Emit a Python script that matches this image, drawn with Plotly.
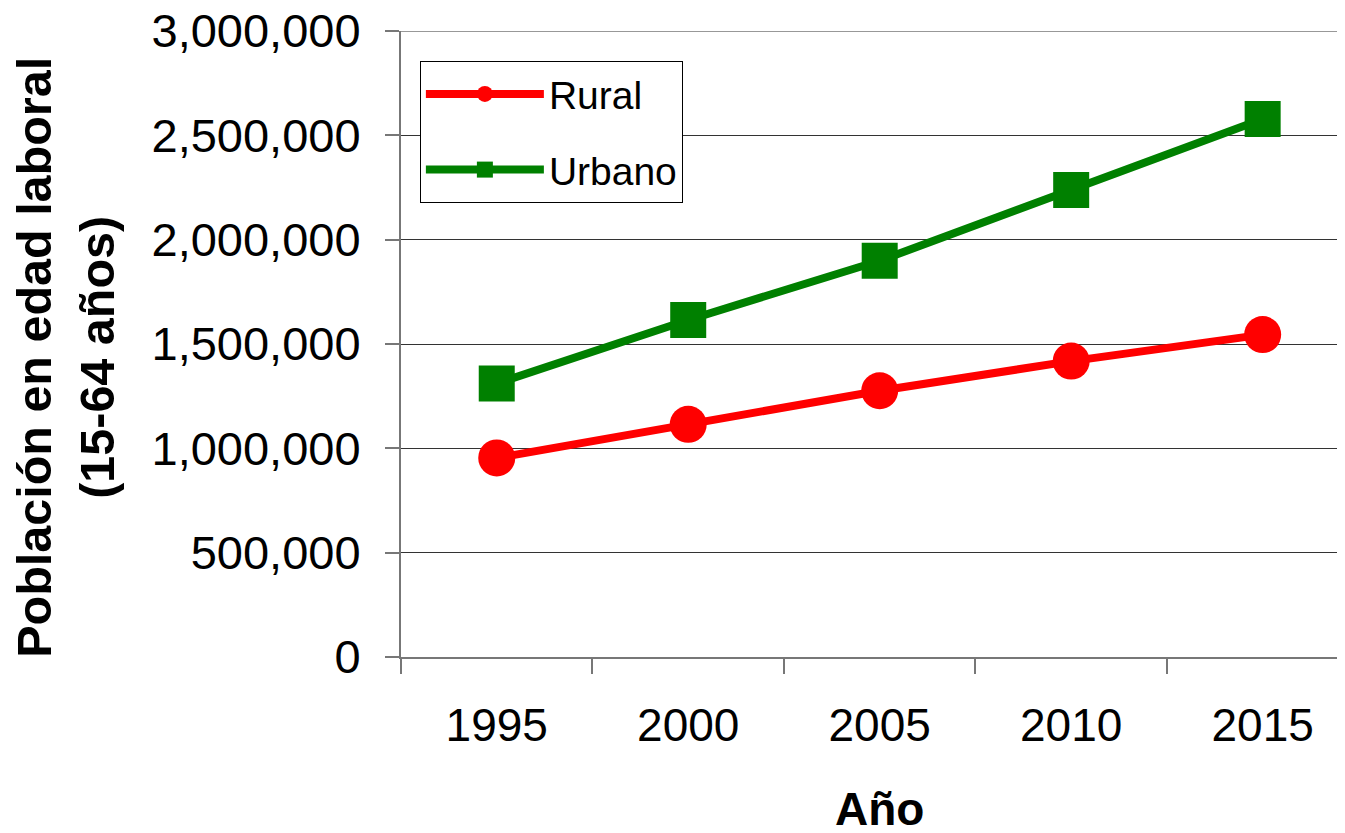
import plotly.graph_objects as go

years = ["1995", "2000", "2005", "2010", "2015"]
rural = [954000, 1115000, 1276000, 1418000, 1545000]
urbano = [1311000, 1615000, 1899000, 2238000, 2578000]
y_max = 3000000
y_step = 500000

FONT = "Arial, Liberation Sans, sans-serif"

fig = go.Figure()
fig.add_trace(go.Scatter(x=years, y=rural, name="Rural", mode="lines+markers",
                         legendgroup="r",
                         line=dict(color="#FF0000", width=8),
                         marker=dict(symbol="circle", size=37, color="#FF0000")))
fig.add_trace(go.Scatter(x=years, y=urbano, name="Urbano", mode="lines+markers",
                         legendgroup="u",
                         line=dict(color="#008000", width=8),
                         marker=dict(symbol="square", size=36, color="#008000")))

fig.update_layout(
    width=1337, height=825,
    margin=dict(l=393, r=0, t=23, b=176),
    paper_bgcolor="white", plot_bgcolor="white",
    font=dict(family=FONT, color="black"),
    showlegend=True,
    legend=dict(x=0.02, y=0.952, xanchor="left", yanchor="top",
                bordercolor="black", borderwidth=1, bgcolor="white",
                font=dict(size=39, family=FONT), itemwidth=118,
                traceorder="grouped", tracegroupgap=22),
    annotations=[
        dict(text="<b>Población en edad laboral<br>(15-64 años)</b>",
             xref="paper", yref="paper", x=-0.3548, y=0.478,
             xanchor="center", yanchor="middle", textangle=-90,
             showarrow=False, font=dict(size=48.5, family=FONT, color="black")),
        dict(text="<b>Año</b>",
             xref="paper", yref="paper", x=0.5074, y=-0.2428,
             xanchor="center", yanchor="middle",
             showarrow=False, font=dict(size=46, family=FONT, color="black")),
    ],
    shapes=[
        dict(type="line", xref="paper", yref="y", x0=0, x1=1, y0=y_max, y1=y_max,
             line=dict(color="#333", width=1), layer="below"),
    ],
)
fig.update_xaxes(
    type="category", range=[-0.5, 4.43],
    tickson="boundaries",
    tickfont=dict(size=46, family=FONT),
    ticks="outside", ticklen=15, tickcolor="#777", tickwidth=2,
    showgrid=False,
    showline=True, linecolor="#777", linewidth=2,
    ticklabelstandoff=27,
    automargin=False,
    zeroline=False,
)
fig.update_yaxes(
    range=[0, y_max], dtick=y_step, tickformat=",d",
    tickfont=dict(size=47, family=FONT),
    ticks="outside", ticklen=14, tickcolor="#777", tickwidth=2,
    ticklabelstandoff=15, ticklabeloverflow="allow",
    showgrid=True, gridcolor="#333", gridwidth=1,
    showline=True, linecolor="#777", linewidth=2,
    automargin=False,
    zeroline=False,
)
fig.write_html("out.html")
